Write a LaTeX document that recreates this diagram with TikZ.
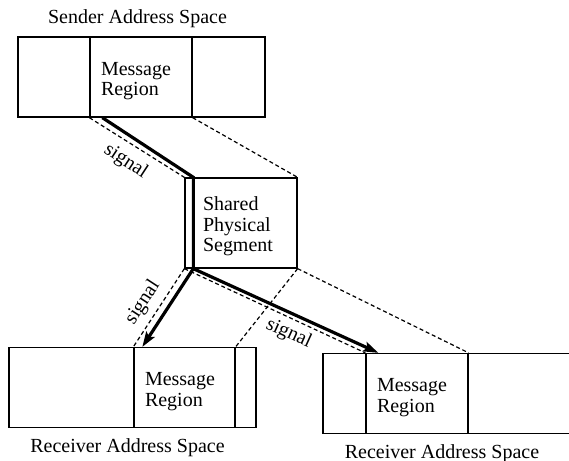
\documentclass[tikz,border=0pt]{standalone}
\usepackage{fontspec}
\setmainfont{Liberation Serif}
\usetikzlibrary{arrows.meta,positioning}
\tikzset{
  addrspace/.style={draw, line width=0.65pt, minimum height=40pt, inner sep=0pt},
  msgregion/.style={draw, line width=0.65pt, minimum height=40pt, text width=40pt,
    inner xsep=5.5pt, inner ysep=0pt, align=left, execute at begin node={\rule{0pt}{10.5pt}}},
  title/.style={inner sep=0pt},
  mapline/.style={line width=0.6pt, dash pattern=on 2pt off 1.4pt},
  sigline/.style={line width=1.6pt},
  sigtip/.style={-{Stealth[length=7.5pt,width=5pt,inset=1.5pt]}},
  siglabel/.style={sloped, font=\fontsize{10}{10}\selectfont}
}
\begin{document}
\begin{tikzpicture}[x=0.5pt,y=-0.5pt,font=\fontsize{10}{10.2}\selectfont]
    \useasboundingbox (0,0) rectangle (569,461);
    % sender
    \node[addrspace, minimum width=123.5pt] (sender) at (141.5,77) {};
    \node[msgregion] (sendmsg) at (141,77) {Message\\Region};
    \node[title, above=4pt of sender, xshift=-2pt] (sendtitle) {Sender Address Space};
    % shared segment
    \node[msgregion, minimum height=45pt, text width=38pt, inner xsep=9pt] (shared) at (241,223)
        {Shared\\Physical\\Segment};
    % receivers
    \node[addrspace, minimum width=123.5pt] (rcv1) at (132.5,387.5) {};
    \node[msgregion, text width=39.5pt] (rcv1msg) at (184.5,387.5) {Message\\Region};
    \node[title, below=5pt of rcv1, xshift=-2.5pt] (rcv1title) {Receiver Address Space};
    \node[addrspace, minimum width=124pt] (rcv2) at (447,393.5) {};
    \node[msgregion] (rcv2msg) at (417,393.5) {Message\\Region};
    \node[title, below=5pt of rcv2, xshift=-2.5pt] (rcv2title) {Receiver Address Space};
    % mappings
    \draw[mapline] (sendmsg.south west) -- (shared.north west);
    \draw[mapline] (sendmsg.south east) -- (shared.north east);
    \draw[mapline] (shared.south west) -- (rcv1msg.north west);
    \draw[mapline] (shared.south east) -- (rcv1msg.north east);
    \draw[mapline] (shared.south west) -- (rcv2msg.north west);
    \draw[mapline] (shared.south east) -- (rcv2msg.north east);
    % signals
    \coordinate (sigstart) at ([xshift=6.5pt]sendmsg.south west);
    \coordinate (sigtop) at ([xshift=4.5pt]shared.north west);
    \coordinate (sigbot) at ([xshift=4.5pt]shared.south west);
    \coordinate (sig1end) at ([xshift=4.5pt]rcv1msg.north west);
    \coordinate (sig2end) at ([xshift=6.5pt]rcv2msg.north west);
    \draw[sigline] (sigstart) -- node[siglabel, below, pos=0.4, inner sep=6.5pt] {signal} (sigtop) -- (sigbot);
    \draw[sigline, sigtip] (sigbot) -- node[siglabel, above, pos=0.6, inner sep=6.5pt] {signal} (sig1end);
    \draw[sigline, sigtip] (sigbot) -- node[siglabel, below, pos=0.56, inner sep=4.5pt] {signal} (sig2end);
\end{tikzpicture}
\end{document}
